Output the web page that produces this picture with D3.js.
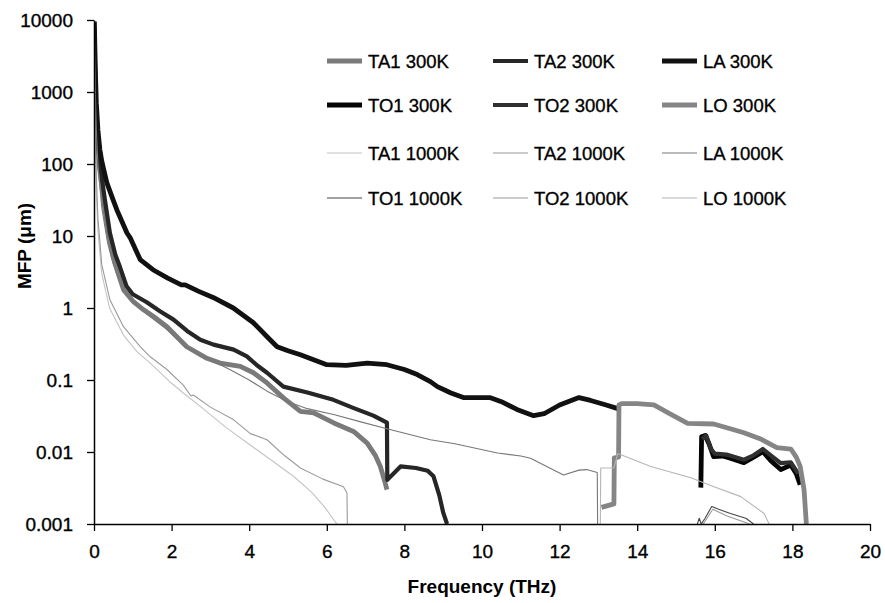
<!DOCTYPE html>
<html>
<head>
<meta charset="utf-8">
<script src="https://cdn.jsdelivr.net/npm/d3@7"></script>
<style>
  html, body { margin: 0; padding: 0; background: #fff; }
  svg { display: block; font-family: "Liberation Sans", Arial, sans-serif; }
</style>
</head>
<body>
<svg id="chart" width="885" height="603"></svg>
<script>
// Phonon mean free path vs frequency, per branch, at 300 K and 1000 K.
// Each series is a list of [frequency (THz), MFP (um)] pairs.
const ta1_300 = [[0.01,7000],[0.03,1200],[0.06,350],[0.1,140],[0.13,100],[0.25,30],[0.38,10],[0.5,5],[0.6,3.3],[0.76,1.8],[1.0,1.25],[1.27,0.95],[1.6,0.72],[1.88,0.55],[2.39,0.29],[2.91,0.2],[3.25,0.172],[3.77,0.155],[4.11,0.126],[4.46,0.091],[4.89,0.056],[5.32,0.0366],[5.66,0.035],[6.18,0.0253],[6.69,0.0193],[7.04,0.0133],[7.25,0.009],[7.38,0.0063],[7.5,0.0038],[7.55,0.003]];
const ta2_300 = [[0.01,8000],[0.03,1500],[0.06,400],[0.1,170],[0.15,100],[0.28,32],[0.41,11],[0.55,5.5],[0.67,3.7],[0.84,2.0],[1.0,1.55],[1.36,1.2],[1.7,0.9],[2.05,0.69],[2.4,0.48],[2.74,0.363],[3.08,0.31],[3.6,0.264],[3.94,0.213],[4.2,0.16],[4.46,0.126],[4.88,0.081],[5.5,0.067],[6.17,0.053],[6.68,0.041],[7.2,0.032],[7.55,0.0255],[7.56,0.0041],[7.9,0.0063],[8.3,0.006],[8.6,0.0055],[8.75,0.0046],[8.9,0.0025],[9.0,0.00144],[9.1,0.001]];
const la_300 = [[0.01,9500],[0.03,2500],[0.06,700],[0.1,300],[0.15,160],[0.2,110],[0.33,55],[0.49,32],[0.59,23],[0.85,11],[0.93,9.5],[1.19,4.7],[1.52,3.4],[1.9,2.6],[2.25,2.1],[2.35,2.1],[2.7,1.7],[3.07,1.4],[3.59,1.0],[4.1,0.63],[4.5,0.38],[4.72,0.29],[5.0,0.255],[5.32,0.224],[6.0,0.163],[6.5,0.16],[7.04,0.172],[7.55,0.163],[8.0,0.14],[8.33,0.119],[8.67,0.095],[8.85,0.081],[9.2,0.066],[9.52,0.057],[10.2,0.057],[10.5,0.05],[10.9,0.039],[11.33,0.032],[11.6,0.034],[12.0,0.045],[12.5,0.057],[12.8,0.052],[13.2,0.045],[13.5,0.04]];
const to1_300 = [[15.64,0.0032],[15.66,0.0163],[15.75,0.017],[15.85,0.013],[15.97,0.0086],[16.2,0.0088],[16.4,0.0082],[16.75,0.0071],[17.0,0.0085],[17.24,0.0101],[17.45,0.0075],[17.7,0.0057],[17.96,0.0066],[18.1,0.005],[18.2,0.0035]];
const to2_300 = [[15.67,0.015],[15.78,0.017],[15.9,0.011],[16.0,0.0095],[16.3,0.0092],[16.75,0.0078],[17.0,0.009],[17.24,0.011],[17.5,0.0085],[17.7,0.007],[17.96,0.0072],[18.15,0.005]];
const lo_300 = [[13.08,0.0017],[13.4,0.0019],[13.41,0.0083],[13.52,0.0085],[13.53,0.045],[13.6,0.047],[14.0,0.047],[14.43,0.045],[14.8,0.035],[15.3,0.025],[15.97,0.0245],[16.4,0.021],[16.75,0.0185],[17.2,0.015],[17.6,0.0115],[17.96,0.011],[18.1,0.0085],[18.2,0.0063],[18.3,0.003],[18.35,0.0012],[18.36,0.001]];
const ta1_1000 = [[0.01,3000],[0.03,300],[0.06,40],[0.1,12],[0.2,3],[0.4,1.0],[0.76,0.42],[1.1,0.25],[1.45,0.172],[2.0,0.09],[2.3,0.066],[2.74,0.043],[3.4,0.022],[4.07,0.012],[4.6,0.0075],[5.14,0.0046],[5.6,0.0028],[5.95,0.0017],[6.26,0.001]];
const ta2_1000 = [[0.01,4000],[0.03,500],[0.06,70],[0.1,18],[0.2,4],[0.41,1.3],[0.76,0.55],[1.19,0.29],[1.45,0.21],[1.88,0.14],[2.3,0.085],[2.5,0.06],[2.56,0.062],[3.0,0.042],[3.6,0.028],[4.03,0.018],[4.46,0.0148],[4.9,0.009],[5.32,0.006],[5.9,0.0042],[6.43,0.0033],[6.52,0.0027],[6.53,0.001]];
const la_1000 = [[0.01,6000],[0.03,1200],[0.06,300],[0.1,100],[0.2,25],[0.35,8],[0.5,4],[0.76,1.7],[1.27,0.9],[1.88,0.5],[2.39,0.28],[2.91,0.2],[3.5,0.14],[4.0,0.1],[4.46,0.07],[5.0,0.05],[5.5,0.04],[6.2,0.033],[6.9,0.026],[7.55,0.021],[8.67,0.0148],[9.3,0.013],[10.4,0.0097],[11.0,0.0088],[11.25,0.0082],[12.1,0.0048],[12.5,0.0056],[12.7,0.0057],[12.97,0.0052],[12.98,0.001]];
const to1_1000 = [[15.55,0.001],[15.6,0.0012],[15.65,0.001],[15.75,0.0012],[15.92,0.00175],[16.1,0.0016],[16.4,0.0014],[16.8,0.0012],[17.0,0.001]];
const to2_1000 = [[15.7,0.001],[15.95,0.0016],[16.3,0.0013],[16.9,0.001]];
const lo_1000 = [[13.05,0.001],[13.06,0.006],[13.4,0.006],[13.5,0.0095],[14.35,0.0063],[15.38,0.0044],[15.98,0.0033],[16.67,0.0024],[17.27,0.0014],[17.4,0.001]];

const seriesNames = ["TA1 300K","TA2 300K","LA 300K","TO1 300K","TO2 300K","LO 300K",
                     "TA1 1000K","TA2 1000K","LA 1000K","TO1 1000K","TO2 1000K","LO 1000K"];
const seriesData = [ta1_300, ta2_300, la_300, to1_300, to2_300, lo_300,
                    ta1_1000, ta2_1000, la_1000, to1_1000, to2_1000, lo_1000];
const xTicks = [0,2,4,6,8,10,12,14,16,18,20];
const yTicks = [0.001,0.01,0.1,1,10,100,1000,10000];

// Line styles per series
const styles = [
  {color:"#7a7a7a", width:4.8},
  {color:"#262626", width:4.2},
  {color:"#111111", width:4.8},
  {color:"#050505", width:4.8},
  {color:"#303030", width:4.2},
  {color:"#858585", width:4.8},
  {color:"#c4c4c4", width:1.1},
  {color:"#9a9a9a", width:1.1},
  {color:"#777777", width:1.1},
  {color:"#454545", width:1.1},
  {color:"#9a9a9a", width:1.1},
  {color:"#b5b5b5", width:1.1}
];

const svg = d3.select("#chart");
const plotL = 94, plotR = 870, plotT = 20, plotB = 524;

const x = d3.scaleLinear().domain([0, 20]).range([plotL, plotR]);
const y = d3.scaleLog().domain([0.001, 10000]).range([plotB, plotT]);

svg.append("defs").append("clipPath").attr("id", "plot")
  .append("rect").attr("x", plotL).attr("y", plotT)
  .attr("width", plotR - plotL).attr("height", plotB - plotT);

const line = d3.line().x(d => x(d[0])).y(d => y(d[1]));

const curves = svg.append("g").attr("clip-path", "url(#plot)");
seriesData.forEach((data, i) => {
  curves.append("path")
    .attr("d", line(data))
    .attr("fill", "none")
    .attr("stroke", styles[i].color)
    .attr("stroke-width", styles[i].width)
    .attr("stroke-linejoin", "round")
    .attr("stroke-linecap", "butt");
});

// Axes
const xAxis = d3.axisBottom(x).tickValues(xTicks).tickSize(7).tickSizeOuter(0).tickPadding(9);
const yAxis = d3.axisLeft(y).tickValues(yTicks).tickSize(7).tickSizeOuter(0).tickPadding(14)
  .tickFormat(d => d >= 1 ? String(d) : d3.format(".3~f")(d));

const gx = svg.append("g").attr("transform", `translate(0,${plotB})`).call(xAxis);
const gy = svg.append("g").attr("transform", `translate(${plotL},0)`).call(yAxis);
[gx, gy].forEach(g => {
  g.select(".domain").attr("stroke", "#000").attr("stroke-width", 1.5);
  g.selectAll(".tick line").attr("stroke", "#000").attr("stroke-width", 1.3);
  g.selectAll(".tick text").attr("fill", "#000").attr("font-size", 19)
    .attr("stroke", "#000").attr("stroke-width", 0.35)
    .attr("font-family", "'Liberation Sans', Arial, sans-serif");
});
gx.selectAll(".tick text").attr("dy", "0.95em");

// Axis titles
svg.append("text")
  .attr("x", 482).attr("y", 593)
  .attr("text-anchor", "middle")
  .attr("font-size", 19).attr("font-weight", "bold")
  .text("Frequency (THz)");

svg.append("text")
  .attr("transform", "translate(31,246) rotate(-90)")
  .attr("text-anchor", "middle")
  .attr("font-size", 19).attr("font-weight", "bold")
  .text("MFP (μm)");

// Legend: 4 rows x 3 columns
const colX = [327, 493, 662];
const rowY = [61, 105, 153, 198];
const legend = svg.append("g");
seriesNames.forEach((name, i) => {
  const row = Math.floor(i / 3), col = i % 3;
  const lx = colX[col], ly = rowY[row];
  legend.append("line")
    .attr("x1", lx).attr("x2", lx + 35)
    .attr("y1", ly).attr("y2", ly)
    .attr("stroke", styles[i].color)
    .attr("stroke-width", styles[i].width);
  legend.append("text")
    .attr("x", lx + 41).attr("y", ly + 7)
    .attr("font-size", 18.5)
    .attr("fill", "#000")
    .attr("stroke", "#000").attr("stroke-width", 0.35)
    .text(name);
});
</script>
</body>
</html>
